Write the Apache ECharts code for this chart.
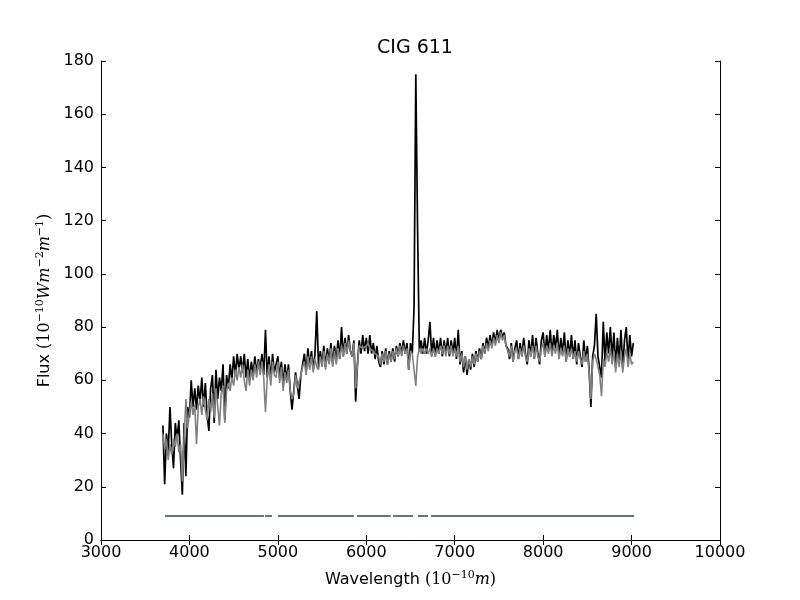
<!DOCTYPE html>
<html>
<head>
<meta charset="utf-8">
<script src="https://cdn.jsdelivr.net/npm/echarts@6/dist/echarts.min.js"></script>
<style>
  body { margin: 0; background: #fff; }
  #chart { width: 800px; height: 600px; }
</style>
</head>
<body>
<div id="chart"></div>
<script>
// Spectrum sampling (Angstrom)
const waveStart = 3700
const waveStep = 20

// Observed flux, one value per 20 A from 3700
const observed = [
  43, 21, 40, 33, 50, 36, 27, 44, 38, 45,
  30, 17, 44, 24, 50, 46, 60, 50, 57, 49,
  58, 52, 61, 50, 59, 47, 41, 57, 62, 44,
  64, 53, 61, 56, 66, 45, 62, 57, 66, 60,
  69, 62, 70, 64, 69, 63, 70, 61, 68, 60,
  67, 62, 69, 63, 68, 64, 70, 62, 79, 61,
  69, 60, 70, 63, 66, 69, 61, 67, 58, 66,
  60, 66, 56, 49, 56, 63, 58, 53, 62, 66,
  70, 63, 72, 65, 71, 64, 70, 86, 65, 71,
  66, 73, 65, 72, 67, 74, 66, 73, 67, 75,
  68, 80, 69, 76, 70, 77, 71, 69, 75, 52,
  66, 75, 70, 77, 71, 76, 70, 77, 70, 74,
  68, 73, 67, 65, 71, 66, 72, 66, 71, 67,
  72, 67, 73, 69, 74, 70, 75, 70, 74, 64,
  74, 70, 87, 175, 117, 71, 75, 70, 76, 70,
  75, 82, 69, 76, 69, 75, 70, 76, 69, 75,
  70, 76, 69, 75, 70, 76, 68, 79, 66, 71,
  63, 69, 62, 68, 64, 70, 65, 71, 67, 72,
  68, 74, 70, 76, 72, 77, 73, 78, 74, 79,
  75, 79, 76, 78, 73, 72, 68, 74, 67, 72,
  75, 68, 74, 69, 76, 70, 66, 75, 69, 77,
  68, 76, 70, 66, 75, 78, 69, 77, 71, 79,
  70, 77, 72, 79, 69, 76, 70, 78, 67, 75,
  69, 77, 68, 75, 66, 74, 69, 65, 75, 67,
  73, 64, 50, 69, 73, 85, 69, 65, 61, 82,
  67, 78, 70, 80, 68, 78, 65, 76, 67, 79,
  65, 75, 80, 67, 77, 69, 74
]

// Model flux, same sampling
const model = [
  40, 34, 38, 30, 36, 32, 38, 35, 40, 33,
  36, 22, 38, 53, 42, 48, 52, 47, 51, 36,
  50, 53, 47, 54, 49, 45, 53, 48, 55, 46,
  57, 50, 43, 55, 58, 44, 56, 59, 56, 61,
  58, 64, 60, 65, 61, 66, 60, 56, 64, 58,
  64, 60, 66, 61, 67, 62, 67, 61, 48, 61,
  66, 58, 67, 62, 61, 67, 59, 65, 56, 63,
  59, 64, 56, 53, 55, 62, 57, 57, 62, 65,
  67, 62, 69, 64, 69, 63, 68, 65, 64, 69,
  65, 71, 64, 70, 66, 72, 65, 71, 66, 72,
  68, 73, 69, 74, 70, 75, 71, 69, 74, 57,
  66, 73, 73, 72, 72, 73, 74, 72, 72, 71,
  70, 70, 69, 66, 70, 67, 71, 66, 70, 67,
  71, 68, 72, 69, 73, 69, 73, 70, 72, 64,
  71, 70, 70, 58, 69, 72, 70, 72, 70, 72,
  70, 72, 69, 72, 69, 72, 70, 73, 70, 73,
  69, 73, 70, 73, 69, 72, 69, 73, 67, 70,
  65, 69, 64, 68, 65, 69, 66, 70, 67, 71,
  68, 73, 70, 74, 71, 75, 72, 76, 73, 77,
  74, 78, 75, 77, 73, 71, 69, 73, 67, 71,
  72, 68, 72, 69, 73, 69, 67, 72, 69, 73,
  68, 73, 69, 67, 72, 74, 69, 73, 70, 74,
  69, 73, 70, 74, 68, 72, 69, 73, 67, 72,
  69, 72, 68, 71, 67, 71, 68, 66, 71, 67,
  70, 63, 53, 67, 70, 68, 68, 62, 54, 68,
  65, 71, 67, 72, 66, 71, 63, 70, 65, 71,
  63, 69, 72, 65, 70, 66, 67
]

// Fitting mask segments (start, end in A) drawn at a fixed flux level
const maskStarts = [3724, 4855, 5002, 5895, 6302, 6585, 6732]
const maskEnds = [4843, 4934, 5861, 6276, 6528, 6698, 9028]
const maskLevel = 9

const xTicks = { min: 3000, max: 10000, interval: 1000 }
const yTicks = { min: 0, max: 180, interval: 20 }

const toPairs = arr => arr.map((v, i) => [waveStart + i * waveStep, v])

const maskData = []
maskStarts.forEach((s, i) => {
  maskData.push([s, maskLevel], [maskEnds[i], maskLevel], [maskEnds[i], null])
})

const mathRich = {
  t: { fontFamily: 'DejaVu Sans', fontSize: 16, color: '#000' },
  r: { fontFamily: 'DejaVu Serif', fontSize: 16, color: '#000' },
  i: { fontFamily: 'DejaVu Serif', fontStyle: 'italic', fontSize: 16, color: '#000' },
  sr: { fontFamily: 'DejaVu Serif', fontSize: 11, color: '#000', verticalAlign: 'top', padding: [0, 0, 8, 0] }
}

const frameAxis = {
  axisLine: { show: true, lineStyle: { color: '#000', width: 1 } },
  axisTick: { show: true, inside: true, length: 5, lineStyle: { color: '#000' } },
  splitLine: { show: false }
}

const chart = echarts.init(document.getElementById('chart'))
chart.setOption({
  backgroundColor: '#fff',
  animation: false,
  title: {
    text: 'CIG 611',
    left: 410,
    top: 34,
    textAlign: 'center',
    textStyle: { fontFamily: 'DejaVu Sans', fontSize: 19, fontWeight: 'normal', color: '#000' }
  },
  grid: { left: 101, right: 80, top: 61, bottom: 60 },
  xAxis: [
    {
      type: 'value', ...xTicks, position: 'bottom', ...frameAxis,
      axisLabel: { fontFamily: 'DejaVu Sans', fontSize: 16, color: '#000', margin: 5, formatter: v => String(v) },
      name: '{t|Wavelength }{r|(10}{sr|−10}{i|m}{r|)}',
      nameLocation: 'middle', nameGap: 30,
      nameTextStyle: { rich: mathRich }
    },
    { type: 'value', ...xTicks, position: 'top', ...frameAxis, axisLabel: { show: false } }
  ],
  yAxis: [
    {
      type: 'value', ...yTicks, position: 'left', ...frameAxis,
      axisLabel: { fontFamily: 'DejaVu Sans', fontSize: 16, color: '#000', margin: 7 },
      name: '{t|Flux }{r|(10}{sr|−10}{i|Wm}{sr|−2}{i|m}{sr|−1}{r|)}',
      nameLocation: 'middle', nameGap: 47, nameRotate: 90,
      nameTextStyle: { rich: mathRich }
    },
    { type: 'value', ...yTicks, position: 'right', ...frameAxis, axisLabel: { show: false } }
  ],
  series: [
    {
      name: 'observed', type: 'line', data: toPairs(observed),
      showSymbol: false, lineStyle: { color: '#000', width: 1.7 }, z: 2
    },
    {
      name: 'model', type: 'line', data: toPairs(model),
      showSymbol: false, lineStyle: { color: '#808080', width: 1.6 }, z: 3
    },
    {
      name: 'mask', type: 'line', data: maskData, connectNulls: false,
      showSymbol: false, lineStyle: { color: '#66757c', width: 2 }, z: 4
    }
  ]
})
</script>
</body>
</html>
